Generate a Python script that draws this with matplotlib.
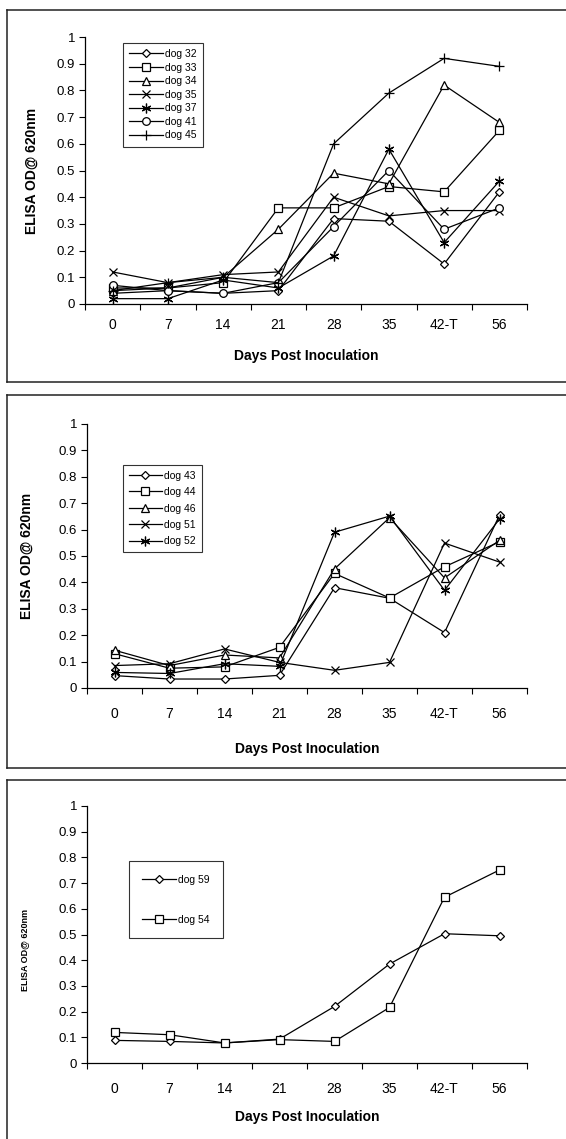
import matplotlib
matplotlib.use("Agg")
import matplotlib.pyplot as plt
from matplotlib.lines import Line2D

plt.rcParams["font.family"] = ["Liberation Sans", "DejaVu Sans"]

# ── Data ───────────────────────────────────────────────────────────────────────
days = ["0", "7", "14", "21", "28", "35", "42-T", "56"]
y_ticks = [0, 0.1, 0.2, 0.3, 0.4, 0.5, 0.6, 0.7, 0.8, 0.9, 1]
y_tick_labels = ["0", "0.1", "0.2", "0.3", "0.4", "0.5", "0.6", "0.7", "0.8", "0.9", "1"]

# panel 1
dogs_a = ["dog 32", "dog 33", "dog 34", "dog 35", "dog 37", "dog 41", "dog 45"]
dog32 = [0.04, 0.05, 0.04, 0.05, 0.32, 0.31, 0.15, 0.42]
dog33 = [0.06, 0.06, 0.08, 0.36, 0.36, 0.44, 0.42, 0.65]
dog34 = [0.05, 0.06, 0.10, 0.28, 0.49, 0.45, 0.82, 0.68]
dog35 = [0.12, 0.08, 0.11, 0.12, 0.40, 0.33, 0.35, 0.35]
dog37 = [0.02, 0.02, 0.09, 0.06, 0.18, 0.58, 0.23, 0.46]
dog41 = [0.07, 0.05, 0.04, 0.08, 0.29, 0.50, 0.28, 0.36]
dog45 = [0.05, 0.08, 0.10, 0.08, 0.60, 0.79, 0.92, 0.89]

# panel 2
dogs_b = ["dog 43", "dog 44", "dog 46", "dog 51", "dog 52"]
dog43 = [0.047, 0.034, 0.034, 0.048, 0.38, 0.34, 0.21, 0.655]
dog44 = [0.13, 0.075, 0.08, 0.154, 0.434, 0.341, 0.459, 0.554]
dog46 = [0.143, 0.085, 0.125, 0.114, 0.451, 0.645, 0.417, 0.559]
dog51 = [0.085, 0.092, 0.148, 0.097, 0.067, 0.097, 0.549, 0.477]
dog52 = [0.059, 0.055, 0.092, 0.082, 0.59, 0.651, 0.37, 0.64]

# panel 3
dogs_c = ["dog 59", "dog 54"]
dog59 = [0.088, 0.084, 0.078, 0.093, 0.22, 0.385, 0.503, 0.495]
dog54 = [0.119, 0.11, 0.078, 0.091, 0.084, 0.216, 0.645, 0.751]

# ── Layout helpers ─────────────────────────────────────────────────────────────
W, H = 566, 1139
fig = plt.figure(figsize=(W / 100, H / 100), dpi=100)


def px_rect(left, top, right, bottom):
    return [left / W, 1 - bottom / H, (right - left) / W, (bottom - top) / H]


def frame(top, bottom):
    kw = dict(color="#222222", lw=1.1, transform=fig.transFigure)
    fig.add_artist(Line2D([7 / W, 1], [1 - top / H] * 2, **kw))
    fig.add_artist(Line2D([7 / W] * 2, [1 - top / H, 1 - bottom / H], **kw))
    if bottom < H:
        fig.add_artist(Line2D([7 / W, 1], [1 - bottom / H] * 2, **kw))


MARKERS = {
    "diamond": dict(marker="D", ms=4.2),
    "square": dict(marker="s", ms=5.5),
    "triangle": dict(marker="^", ms=6),
    "x": dict(marker="x", ms=6),
    "star": dict(marker=(6, 2, 0), ms=7),
    "circle": dict(marker="o", ms=5.5),
    "plus": dict(marker="+", ms=7),
}


def setup(ax, ylab_size, ylab_xy, tick_pad, xlab_pad):
    xs = [i + 0.5 for i in range(len(days))]
    ax.set_xlim(0, len(days))
    ax.set_ylim(0, 1)
    ax.spines["top"].set_visible(False)
    ax.spines["right"].set_visible(False)
    ax.spines["left"].set_linewidth(0.9)
    ax.spines["bottom"].set_linewidth(0.9)
    ax.set_yticks(y_ticks)
    ax.set_yticklabels(y_tick_labels, fontsize=9.5)
    ax.set_xticks(range(len(days) + 1))
    ax.set_xticklabels([])
    ax.set_xticks(xs, minor=True)
    ax.set_xticklabels(days, minor=True, fontsize=10)
    ax.tick_params(axis="x", which="minor", length=0, pad=tick_pad)
    ax.tick_params(axis="x", which="major", length=4, width=0.8, direction="out")
    ax.tick_params(axis="y", length=4, width=0.8, direction="out", pad=3)
    ax.set_xlabel("Days Post Inoculation", fontsize=10, fontweight="bold",
                  labelpad=xlab_pad)
    ax.set_ylabel("ELISA OD@ 620nm", fontsize=ylab_size, fontweight="bold")
    ax.yaxis.set_label_coords(*ylab_xy)
    return xs


def draw(ax, xs, names, series, styles):
    for name, vals, st in zip(names, series, styles):
        ax.plot(xs, vals, color="black", lw=0.9, mfc="white", mec="black",
                mew=0.9, label=name, **MARKERS[st])


def legend(ax, anchor, spacing, pad):
    lg = ax.legend(loc="upper left", bbox_to_anchor=anchor, borderaxespad=0,
                   fontsize=7.5, frameon=True, fancybox=False, handlelength=3.2,
                   labelspacing=spacing, borderpad=pad, handletextpad=0.2)
    lg.get_frame().set_edgecolor("black")
    lg.get_frame().set_linewidth(0.8)


# ── Panel 1 ────────────────────────────────────────────────────────────────────
frame(10, 382)
ax1 = fig.add_axes(px_rect(85, 37, 527, 304))
xs = setup(ax1, 10, (-0.105, 0.5), 10, 12)
draw(ax1, xs, dogs_a, [dog32, dog33, dog34, dog35, dog37, dog41, dog45],
     ["diamond", "square", "triangle", "x", "star", "circle", "plus"])
legend(ax1, (0.086, 0.978), 0.34, 0.6)

# ── Panel 2 ────────────────────────────────────────────────────────────────────
frame(395, 768)
ax2 = fig.add_axes(px_rect(87, 424, 527, 688))
xs = setup(ax2, 10, (-0.122, 0.5), 14, 15)
draw(ax2, xs, dogs_b, [dog43, dog44, dog46, dog51, dog52],
     ["diamond", "square", "triangle", "x", "star"])
legend(ax2, (0.082, 0.845), 0.62, 0.55)

# ── Panel 3 ────────────────────────────────────────────────────────────────────
frame(780, H)
ax3 = fig.add_axes(px_rect(87, 806, 527, 1063))
xs = setup(ax3, 6.5, (-0.132, 0.44), 14, 10)
draw(ax3, xs, dogs_c, [dog59, dog54], ["diamond", "square"])
legend(ax3, (0.095, 0.786), 2.9, 1.3)

fig.savefig("out.png", dpi=100)
